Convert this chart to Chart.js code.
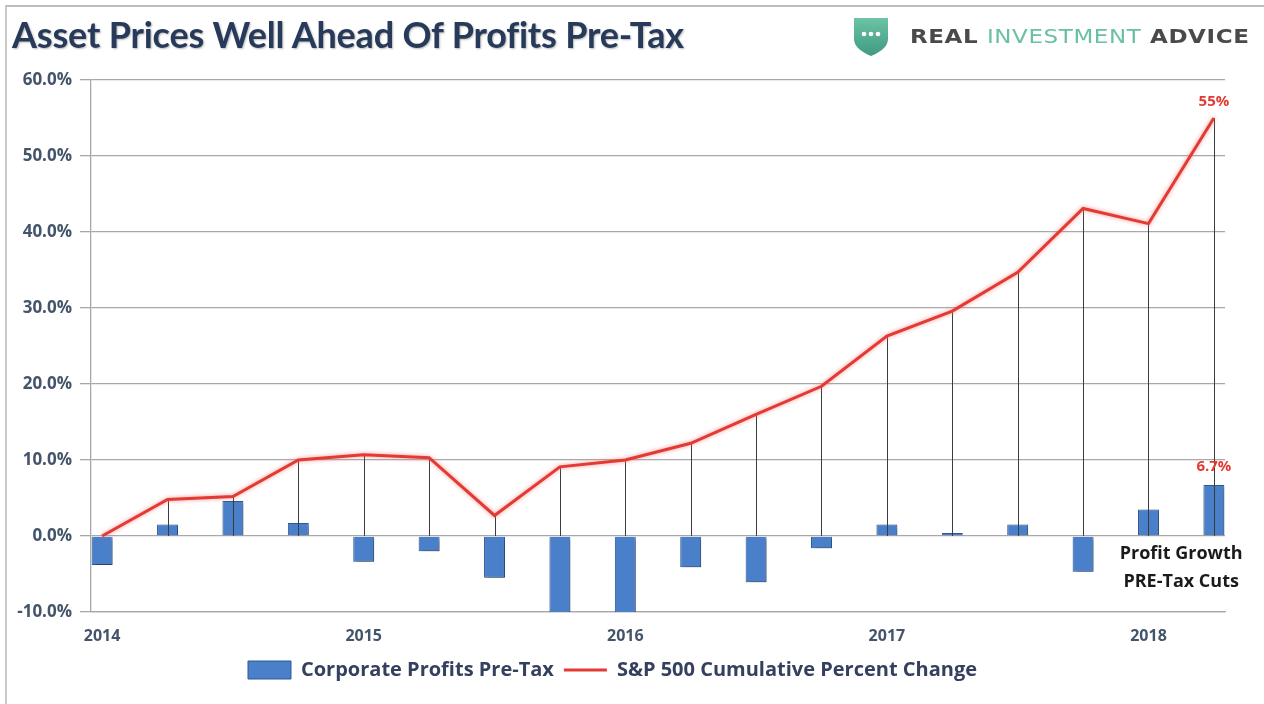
<!DOCTYPE html>
<html>
<head>
<meta charset="utf-8">
<title>Asset Prices Well Ahead Of Profits Pre-Tax</title>
<script src="https://cdn.jsdelivr.net/npm/chart.js@4.4.0/dist/chart.umd.min.js"></script>
<style>
  html, body { margin: 0; padding: 0; background: #fff; }
  #wrap { position: relative; width: 1264px; height: 704px; overflow: hidden; background: #fff; }
  #frame { position: absolute; left: 5px; top: 5px; right: -10px; bottom: -10px;
           border-top: 2px solid #bdbdbd; border-left: 2px solid #c9c9c9; pointer-events: none; }
  #title { position: absolute; left: 12px; top: 12px; margin: 0;
           font: 700 36px Lato, sans-serif; color: #283a5a; letter-spacing: -0.2px;
           text-shadow: 1px 1px 2px rgba(0,0,0,0.28); white-space: nowrap; }
  #logo { position: absolute; left: 851px; top: 15px; height: 42px; display: flex; align-items: center; }
  #logo svg { width: 40px; height: 42px; }
  #logo .brand { margin-left: 19px; font: 700 19px "DejaVu Sans", sans-serif; letter-spacing: 0.5px;
                 color: #4a4a4a; white-space: nowrap; transform-origin: 0 50%; display: inline-block; }
  #logo .brand .mid { color: #6bbfa3; font-weight: 400; }
  canvas { position: absolute; left: 0; top: 0; }
</style>
</head>
<body>
<div id="wrap">
  <canvas id="chart" width="1264" height="704"></canvas>
  <div id="frame"></div>
  <h1 id="title">Asset Prices Well Ahead Of Profits Pre-Tax</h1>
  <div id="logo">
    <svg viewBox="0 0 40 42">
      <defs>
        <linearGradient id="sg" x1="0" y1="0" x2="0" y2="1">
          <stop offset="0" stop-color="#6cc3a6"/>
          <stop offset="1" stop-color="#3f9a80"/>
        </linearGradient>
      </defs>
      <path d="M3 3 L37 3 L37 24 Q37 34 20 41 Q3 34 3 24 Z" fill="url(#sg)"/>
      <circle cx="13" cy="19" r="2.3" fill="#fff"/>
      <circle cx="20" cy="19" r="2.3" fill="#fff"/>
      <circle cx="27" cy="19" r="2.3" fill="#fff"/>
    </svg>
    <span class="brand" id="brand">REAL <span class="mid">INVESTMENT</span> ADVICE</span>
  </div>
</div>

<script>
// quarterly points, 2014 Q1 .. 2018 Q2
const quarters = [
  "2014 Q1", "2014 Q2", "2014 Q3", "2014 Q4",
  "2015 Q1", "2015 Q2", "2015 Q3", "2015 Q4",
  "2016 Q1", "2016 Q2", "2016 Q3", "2016 Q4",
  "2017 Q1", "2017 Q2", "2017 Q3", "2017 Q4",
  "2018 Q1", "2018 Q2"
];
// Corporate Profits Pre-Tax (% change)
const profits = [-3.8, 1.5, 4.6, 1.7, -3.4, -2.0, -5.5, -10.4, -10.4, -4.1, -6.1, -1.6, 1.5, 0.4, 1.5, -4.7, 3.5, 6.7];
// S&P 500 cumulative percent change
const sp500 = [0, 4.8, 5.2, 10.0, 10.7, 10.3, 2.7, 9.1, 10.0, 12.2, 16.0, 19.7, 26.3, 29.6, 34.7, 43.1, 41.1, 55.0];
const yTicks = [-10, 0, 10, 20, 30, 40, 50, 60];
const noteLines = ["Profit Growth", "PRE-Tax Cuts"];

const tickColor = "#44546a";
const gridColor = "#a8a8a8";
const barFill = "#4a7fc9";
const barEdge = "#2c5b9c";
const lineRed = "#e23b33";
const textFont = "'Open Sans', sans-serif";

const yearTickIdx = quarters.map((q, i) => (q.endsWith("Q1") ? i : null)).filter((i) => i !== null);

// stretch the logo wordmark to the width it has in the original
const brand = document.getElementById("brand");
brand.style.transform = "scaleX(" + (340 / brand.offsetWidth).toFixed(3) + ")";

// drop lines from the S&P line down to the zero axis, drawn over the bars
const dropLines = {
  id: "dropLines",
  afterDatasetDraw(chart, args) {
    if (args.index !== 0) return;
    const { ctx, scales: { x, y } } = chart;
    ctx.save();
    ctx.strokeStyle = "#3c3c3c";
    ctx.lineWidth = 1;
    sp500.forEach((v, i) => {
      if (!v) return;
      const px = Math.round(x.getPixelForValue(i)) + 0.5;
      ctx.beginPath();
      ctx.moveTo(px, y.getPixelForValue(v));
      ctx.lineTo(px, y.getPixelForValue(0));
      ctx.stroke();
    });
    ctx.restore();
  },
};

// soft shadow under bars, glow round the red line
const shadows = {
  id: "shadows",
  beforeDatasetDraw(chart, args) {
    const ctx = chart.ctx;
    ctx.save();
    if (args.index === 0) {
      ctx.shadowColor = "rgba(0,0,0,0.35)";
      ctx.shadowBlur = 4;
      ctx.shadowOffsetX = 2;
      ctx.shadowOffsetY = 2;
    } else {
      ctx.shadowColor = "rgba(245,120,120,0.8)";
      ctx.shadowBlur = 4;
    }
  },
  afterDatasetDraw(chart) {
    chart.ctx.restore();
  },
};

// value labels and the note at the right
const notes = {
  id: "notes",
  afterDraw(chart) {
    const { ctx, scales: { x, y } } = chart;
    const last = quarters.length - 1;
    ctx.save();
    ctx.textAlign = "center";
    ctx.textBaseline = "bottom";
    ctx.font = "700 15px " + textFont;
    ctx.fillStyle = lineRed;
    ctx.fillText(Math.round(sp500[last]) + "%", x.getPixelForValue(last), y.getPixelForValue(sp500[last]) - 9);
    ctx.fillText(profits[last].toFixed(1) + "%", x.getPixelForValue(last), y.getPixelForValue(profits[last]) - 11);

    ctx.fillStyle = "#1a1a1a";
    ctx.font = "700 18px " + textFont;
    ctx.textBaseline = "middle";
    const nx = x.getPixelForValue(last - 0.5);
    ctx.fillText(noteLines[0], nx, y.getPixelForValue(-2.4));
    ctx.fillText(noteLines[1], nx, y.getPixelForValue(-6.1));
    ctx.restore();
  },
};

Chart.defaults.font.family = textFont;

new Chart(document.getElementById("chart"), {
  data: {
    datasets: [
      {
        type: "bar",
        label: "Corporate Profits Pre-Tax",
        data: profits.map((v, i) => ({ x: i, y: v })),
        backgroundColor: barFill,
        borderColor: barEdge,
        borderWidth: 1,
        categoryPercentage: 1,
        barPercentage: 0.32,
        order: 1,
      },
      {
        type: "line",
        label: "S&P 500 Cumulative Percent Change",
        data: sp500.map((v, i) => ({ x: i, y: v })),
        borderColor: lineRed,
        backgroundColor: lineRed,
        borderWidth: 3,
        pointRadius: 0,
        tension: 0,
        order: 0,
      },
    ],
  },
  options: {
    responsive: false,
    animation: false,
    layout: { padding: { left: 0, right: 39, top: 80, bottom: 14 } },
    scales: {
      x: {
        type: "linear",
        offset: false,
        min: -0.17,
        max: quarters.length - 1 + 0.17,
        afterBuildTicks(scale) {
          scale.ticks = yearTickIdx.map((i) => ({ value: i }));
        },
        afterFit(scale) {
          scale.height = 38;
        },
        grid: { display: false, drawTicks: false },
        border: { display: true, color: gridColor, width: 1.3 },
        ticks: {
          padding: 15,
          color: tickColor,
          font: { size: 16, weight: "700" },
          maxRotation: 0,
          callback: (v) => (quarters[v] ? quarters[v].slice(0, 4) : ""),
        },
      },
      y: {
        min: yTicks[0],
        max: yTicks[yTicks.length - 1],
        afterBuildTicks(scale) {
          scale.ticks = yTicks.map((v) => ({ value: v }));
        },
        afterFit(scale) {
          scale.width = 91;
        },
        grid: { color: gridColor, lineWidth: 1.3, tickLength: 11 },
        border: { color: gridColor, width: 1.3 },
        ticks: {
          padding: 8,
          color: tickColor,
          font: { size: 17, weight: "700" },
          callback: (v) => v.toFixed(1) + "%",
        },
      },
    },
    plugins: {
      tooltip: { enabled: false },
      legend: {
        position: "bottom",
        labels: {
          color: "#34405e",
          font: { size: 20, weight: "700" },
          usePointStyle: true,
          pointStyleWidth: 43,
          boxHeight: 18,
          padding: 10,
          sort: (a, b) => a.datasetIndex - b.datasetIndex,
          generateLabels(chart) {
            const items = Chart.defaults.plugins.legend.labels.generateLabels(chart);
            items.forEach((it) => {
              if (it.datasetIndex === 0) {
                it.pointStyle = "rect";
                it.lineWidth = 1;
              } else {
                it.pointStyle = "line";
                it.lineWidth = 3;
              }
            });
            return items;
          },
        },
      },
    },
  },
  plugins: [shadows, dropLines, notes],
});
</script>
</body>
</html>
